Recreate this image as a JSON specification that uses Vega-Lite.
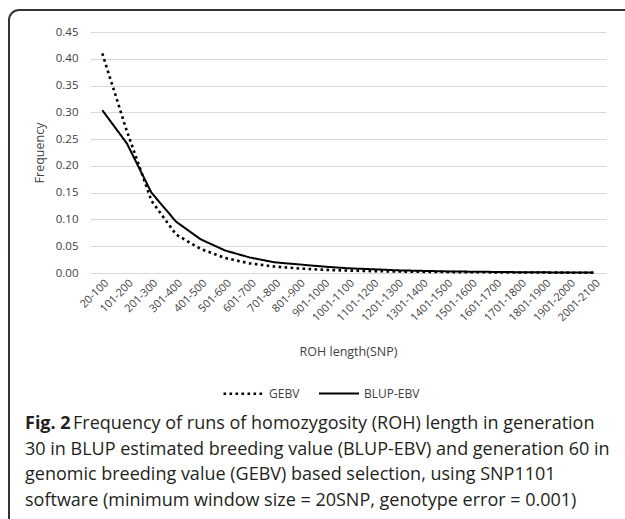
{
  "$schema": "https://vega.github.io/schema/vega-lite/v6.json",
  "autosize": {"type": "none"},
  "width": 640,
  "height": 530,
  "padding": {"left": 9, "top": 10, "right": 0, "bottom": 0},
  "background": "white",
  "config": {
    "font": "Open Sans",
    "view": {"stroke": "#333333", "strokeWidth": 2, "cornerRadius": 10, "fill": "white"}
  },
  "title": {
    "text": "Fig. 2",
    "subtitle": [
      "\u2800\u2800\u2800\u2002Frequency of runs of homozygosity (ROH) length in generation",
      "30 in BLUP estimated breeding value (BLUP-EBV) and generation 60 in",
      "genomic breeding value (GEBV) based selection, using SNP1101",
      "software (minimum window size = 20SNP, genotype error = 0.001)"
    ],
    "orient": "bottom",
    "anchor": "start",
    "frame": "group",
    "offset": -125,
    "dx": 16,
    "font": "Open Sans",
    "fontSize": 18,
    "fontWeight": "bold",
    "color": "#231f20",
    "subtitleFont": "Open Sans",
    "subtitleFontSize": 18,
    "subtitleColor": "#231f20",
    "subtitleLineHeight": 25.5,
    "subtitlePadding": -18
  },
  "data": {
    "values": [
      {"range": "20-100", "series": "GEBV", "freq": 0.41},
      {"range": "101-200", "series": "GEBV", "freq": 0.265},
      {"range": "201-300", "series": "GEBV", "freq": 0.135},
      {"range": "301-400", "series": "GEBV", "freq": 0.072},
      {"range": "401-500", "series": "GEBV", "freq": 0.045},
      {"range": "501-600", "series": "GEBV", "freq": 0.028},
      {"range": "601-700", "series": "GEBV", "freq": 0.018},
      {"range": "701-800", "series": "GEBV", "freq": 0.012},
      {"range": "801-900", "series": "GEBV", "freq": 0.0085},
      {"range": "901-1000", "series": "GEBV", "freq": 0.006},
      {"range": "1001-1100", "series": "GEBV", "freq": 0.0045},
      {"range": "1101-1200", "series": "GEBV", "freq": 0.0035},
      {"range": "1201-1300", "series": "GEBV", "freq": 0.0028},
      {"range": "1301-1400", "series": "GEBV", "freq": 0.0022},
      {"range": "1401-1500", "series": "GEBV", "freq": 0.0018},
      {"range": "1501-1600", "series": "GEBV", "freq": 0.0015},
      {"range": "1601-1700", "series": "GEBV", "freq": 0.0012},
      {"range": "1701-1800", "series": "GEBV", "freq": 0.001},
      {"range": "1801-1900", "series": "GEBV", "freq": 0.0008},
      {"range": "1901-2000", "series": "GEBV", "freq": 0.0006},
      {"range": "2001-2100", "series": "GEBV", "freq": 0.0005},
      {"range": "20-100", "series": "BLUP-EBV", "freq": 0.304},
      {"range": "101-200", "series": "BLUP-EBV", "freq": 0.242},
      {"range": "201-300", "series": "BLUP-EBV", "freq": 0.15},
      {"range": "301-400", "series": "BLUP-EBV", "freq": 0.096},
      {"range": "401-500", "series": "BLUP-EBV", "freq": 0.063},
      {"range": "501-600", "series": "BLUP-EBV", "freq": 0.042},
      {"range": "601-700", "series": "BLUP-EBV", "freq": 0.029},
      {"range": "701-800", "series": "BLUP-EBV", "freq": 0.02},
      {"range": "801-900", "series": "BLUP-EBV", "freq": 0.016},
      {"range": "901-1000", "series": "BLUP-EBV", "freq": 0.012},
      {"range": "1001-1100", "series": "BLUP-EBV", "freq": 0.0088},
      {"range": "1101-1200", "series": "BLUP-EBV", "freq": 0.007},
      {"range": "1201-1300", "series": "BLUP-EBV", "freq": 0.005},
      {"range": "1301-1400", "series": "BLUP-EBV", "freq": 0.004},
      {"range": "1401-1500", "series": "BLUP-EBV", "freq": 0.003},
      {"range": "1501-1600", "series": "BLUP-EBV", "freq": 0.0025},
      {"range": "1601-1700", "series": "BLUP-EBV", "freq": 0.002},
      {"range": "1701-1800", "series": "BLUP-EBV", "freq": 0.0015},
      {"range": "1801-1900", "series": "BLUP-EBV", "freq": 0.0012},
      {"range": "1901-2000", "series": "BLUP-EBV", "freq": 0.001},
      {"range": "2001-2100", "series": "BLUP-EBV", "freq": 0.0008}
    ]
  },
  "mark": {"type": "line", "color": "black"},
  "encoding": {
    "x": {
      "field": "range",
      "type": "ordinal",
      "sort": null,
      "scale": {"type": "point", "range": [81, 597], "padding": 0.5},
      "axis": {
        "title": "ROH length(SNP)",
        "offset": -267,
        "domain": false,
        "ticks": false,
        "grid": false,
        "labelAngle": -45,
        "labelAlign": "right",
        "labelBaseline": "top",
        "labelPadding": 4,
        "labelOverlap": false,
        "labelBound": false,
        "labelFontSize": 11,
        "labelColor": "#404040",
        "titleFontSize": 12.5,
        "titleFontWeight": "normal",
        "titleColor": "#404040",
        "titleX": 339,
        "titleY": 72
      }
    },
    "y": {
      "field": "freq",
      "type": "quantitative",
      "scale": {"domain": [0, 0.45], "range": [263, 22], "nice": false, "zero": true},
      "axis": {
        "title": "Frequency",
        "values": [0, 0.05, 0.1, 0.15, 0.2, 0.25, 0.3, 0.35, 0.4, 0.45],
        "format": ".2f",
        "offset": -81,
        "domain": false,
        "ticks": false,
        "labelPadding": 12,
        "grid": true,
        "gridColor": "#d9d9d9",
        "gridWidth": 1,
        "labelFontSize": 11.5,
        "labelColor": "#404040",
        "titleFontSize": 12.5,
        "titleFontWeight": "normal",
        "titleColor": "#404040",
        "titleX": -44,
        "titleY": 142.5
      }
    },
    "strokeDash": {
      "field": "series",
      "type": "nominal",
      "scale": {"domain": ["GEBV", "BLUP-EBV"], "range": [[2.6, 3.4], [1, 0]]},
      "legend": {
        "orient": "none",
        "legendX": 213,
        "legendY": 362,
        "direction": "horizontal",
        "title": null,
        "padding": 0,
        "symbolType": "stroke",
        "symbolSize": 1600,
        "symbolStrokeColor": "black",
        "labelOffset": 4,
        "columnPadding": 15,
        "labelFontSize": 12,
        "labelColor": "#404040"
      }
    },
    "strokeWidth": {
      "field": "series",
      "type": "nominal",
      "scale": {"domain": ["GEBV", "BLUP-EBV"], "range": [2.6, 2]},
      "legend": null
    }
  }
}
